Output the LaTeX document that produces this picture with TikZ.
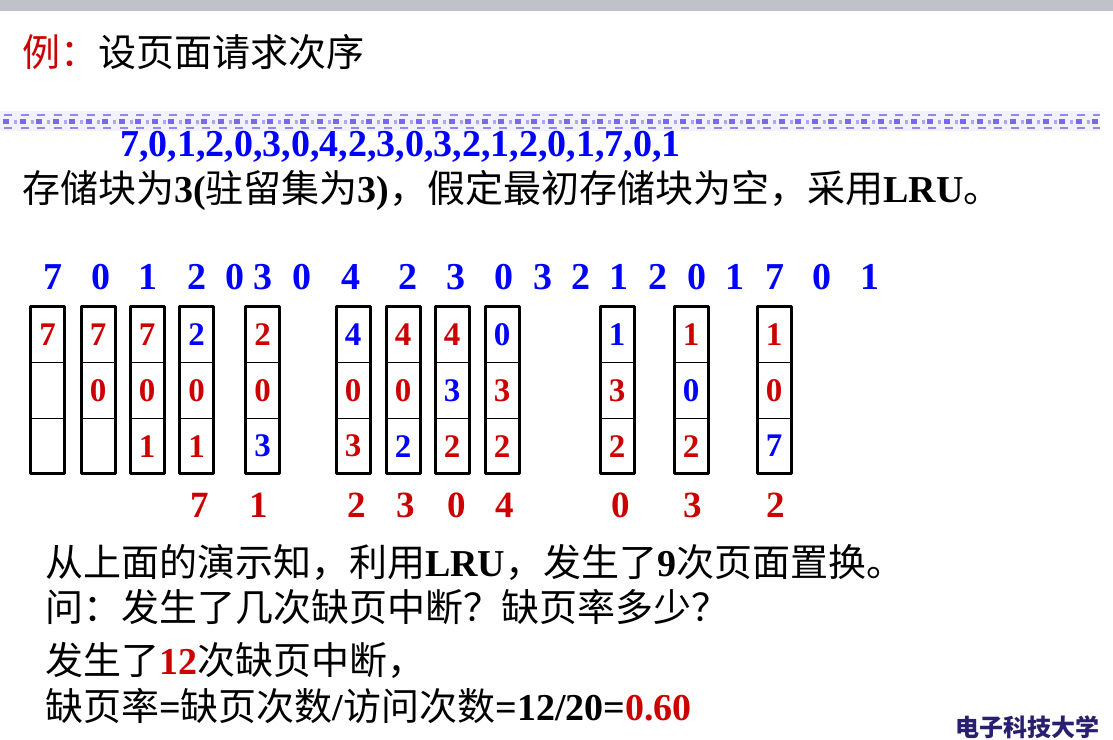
\documentclass[tikz,border=0pt]{standalone}
\usepackage{fontspec}
\usepackage{xcolor}
\usepackage{tikz}
\usetikzlibrary{positioning}
\setmainfont{Liberation Serif}
\newfontfamily\cjk{Noto Sans CJK SC}
\definecolor{pred}{RGB}{204,0,0}
\definecolor{pblue}{RGB}{0,0,255}
\definecolor{navy}{RGB}{40,32,110}
\definecolor{topbar}{RGB}{192,194,202}
\definecolor{bandc}{RGB}{120,105,235}
\newcommand{\zh}[1]{{\cjk\mdseries #1}}
\newcommand{\R}[1]{\textcolor{pred}{#1}}
\newcommand{\B}[1]{\textcolor{pblue}{#1}}

\begin{document}
\begin{tikzpicture}[x=1pt, y=-1pt,
    txt/.style={anchor=west, inner sep=0pt, font=\fontsize{38}{40}\selectfont\bfseries},
    refdig/.style={inner sep=0pt, text=pblue, font=\fontsize{38}{40}\selectfont\bfseries},
    cell/.style={draw, line width=1pt, outer sep=0pt, minimum width=34pt, minimum height=55.67pt, inner sep=0pt, font=\fontsize{33}{35}\selectfont\bfseries},
    outline/.style={line width=3pt, line join=round},
    victim/.style={inner sep=0pt, text=pred, font=\fontsize{37}{39}\selectfont\bfseries}
]
    \useasboundingbox (0,0) rectangle (1113,739);

    % Top bar
    \fill[topbar] (0,0) rectangle (1113,11);

    % Title
    \node[txt] (title) at (22,52) {\R{\zh{例：}}\zh{设页面请求次序}};

    % Decorative band
    \fill[blue!5] (0,111) rectangle (1100,131);
    \draw[bandc!80, line width=2.5pt, dash pattern=on 8pt off 8.5pt] (4,115) -- (1100,115);
    \draw[bandc, line width=5pt, dash pattern=on 6pt off 10.5pt] (3,121.5) -- (1100,121.5);
    \draw[bandc!60, line width=4pt, dash pattern=on 3pt off 13.5pt] (14,121.5) -- (1100,121.5);
    \draw[bandc!80, line width=2.5pt, dash pattern=on 8pt off 8.5pt] (4,128) -- (1100,128);

    % Request string
    \node[txt, text=pblue] (seq) at (120,147) {7,0,1,2,0,3,0,4,2,3,0,3,2,1,2,0,1,7,0,1};
    \node[txt] (store) at (22,190) {\zh{存储块为}3(\zh{驻留集为}3)\zh{，假定最初存储块为空，采用}LRU\zh{。}};

    % Reference row
    \foreach \x/\d [count=\i] in {53/7,101/0,148/1,197/2,235/0,263/3,302/0,351/4,408/2,456/3,
        504/0,543/3,581/2,619/1,658/2,697/0,735/1,775/7,822/0,870/1}
        \node[refdig] (ref\i) at (\x,277) {\d};

    % Frames
    \foreach \i/\x/\a/\b/\c in {1/47.5/\R{7}/{}/{}, 2/98/\R{7}/\R{0}/{}, 3/147/\R{7}/\R{0}/\R{1},
        4/196.5/\B{2}/\R{0}/\R{1}, 5/262.5/\R{2}/\R{0}/\B{3}, 6/353/\B{4}/\R{0}/\R{3},
        7/403/\R{4}/\R{0}/\B{2}, 8/452/\R{4}/\B{3}/\R{2}, 9/502/\B{0}/\R{3}/\R{2},
        10/617/\B{1}/\R{3}/\R{2}, 11/691/\R{1}/\B{0}/\R{2}, 12/774/\R{1}/\R{0}/\B{7}} {
        \node[cell] (top\i) at (\x,334.8) {\a};
        \node[cell, below=0pt of top\i] (mid\i) {\b};
        \node[cell, below=0pt of mid\i] (bot\i) {\c};
        \draw[outline] (top\i.north west) rectangle (bot\i.south east);
    }

    % Replaced pages
    \foreach \x/\d [count=\i] in {200/7,259/1,357/2,406/3,457/0,505/4,621/0,693/3,776/2}
        \node[victim] (out\i) at (\x,505) {\d};

    % Conclusions
    \node[txt] (shown) at (45,562) {\zh{从上面的演示知，利用}LRU\zh{，发生了}9\zh{次页面置换。}};
    \node[txt] (ask) at (45,607) {\zh{问：发生了几次缺页中断？缺页率多少？}};
    \node[txt] (faults) at (45,660) {\zh{发生了}\R{12}\zh{次缺页中断，}};
    \node[txt] (rate) at (45,706) {\zh{缺页率}=\zh{缺页次数}/\zh{访问次数}=12/20=\R{0.60}};

    % Logo
    \node[anchor=east, inner sep=0pt, text=navy, font=\fontsize{24}{26}\selectfont\cjk\bfseries] (logo) at (1100,727) {电子科技大学};

\end{tikzpicture}
\end{document}
